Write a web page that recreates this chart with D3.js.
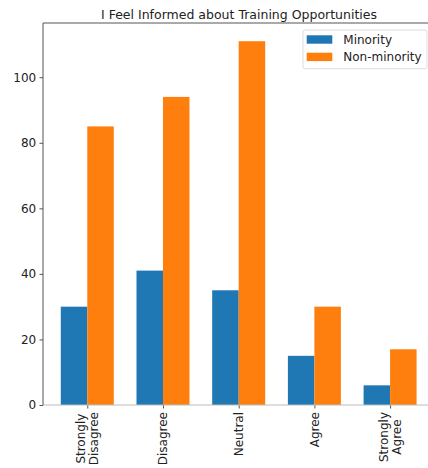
<!DOCTYPE html>
<html>
<head>
<meta charset="utf-8">
<script src="https://cdn.jsdelivr.net/npm/d3@7"></script>
<style>
html,body{margin:0;padding:0;background:#fff;}
svg{display:block;font-family:"DejaVu Sans",sans-serif;}
</style>
</head>
<body>
<svg id="c" width="428" height="468"></svg>
<script>
const categories = ["Strongly\nDisagree", "Disagree", "Neutral", "Agree", "Strongly\nAgree"];
const seriesNames = ["Minority", "Non-minority"];
const minority = [30, 41, 35, 15, 6];
const nonMinority = [85, 94, 111, 30, 17];
const yTicks = [0, 20, 40, 60, 80, 100];
const colors = ["#1f77b4", "#ff7f0e"];
const title = "I Feel Informed about Training Opportunities";

(function () {
const svg = d3.select("#c");
const mLeft = 43, mTop = 23, mBottom = 405;
const xUnit = 75.7;
const idx = categories.map((d, i) => i);
const x = d3.scaleLinear().domain([-0.585, 4.585]).range([mLeft, mLeft + 5.17 * xUnit]);
const yMax = d3.max(nonMinority.concat(minority)) * 1.05;
const y = d3.scaleLinear().domain([0, yMax]).range([mBottom, mTop]);
const bw = 0.35;

const series = [minority, nonMinority];
series.forEach((vals, s) => {
  svg.append("g").selectAll("rect").data(vals).join("rect")
    .attr("x", (d, i) => x(i + (s === 0 ? -bw : 0)))
    .attr("width", x(bw) - x(0))
    .attr("y", d => y(d))
    .attr("height", d => y(0) - y(d))
    .attr("fill", colors[s]);
});

// y axis
const yAxis = d3.axisLeft(y).tickValues(yTicks).tickSize(3.5).tickPadding(3.3);
const gy = svg.append("g").attr("transform", `translate(${mLeft},0)`).call(yAxis);
gy.select(".domain").remove();
gy.selectAll(".tick line").attr("stroke", "#555");
gy.selectAll(".tick text").attr("font-size", 12).attr("fill", "#222").attr("font-family", "DejaVu Sans");

// x axis ticks
const xAxis = d3.axisBottom(x).tickValues(idx).tickSize(3.5).tickFormat("");
const gx = svg.append("g").attr("transform", `translate(0,${mBottom})`).call(xAxis);
gx.select(".domain").remove();
gx.selectAll(".tick line").attr("stroke", "#555");

// spines
svg.append("line").attr("x1", mLeft).attr("x2", 428).attr("y1", mBottom).attr("y2", mBottom).attr("stroke", "#bbb").attr("stroke-width", 1.2);
svg.append("line").attr("x1", mLeft).attr("x2", 428).attr("y1", mTop).attr("y2", mTop).attr("stroke", "#555").attr("stroke-width", 1);
svg.append("line").attr("x1", mLeft).attr("x2", mLeft).attr("y1", mTop).attr("y2", mBottom).attr("stroke", "#555").attr("stroke-width", 1);

// x labels rotated
const lh = 13;
idx.forEach(i => {
  const lines = categories[i].split("\n");
  const g = svg.append("g");
  const texts = lines.map((ln, j) => g.append("text").text(ln)
      .attr("font-size", 12).attr("fill", "#222").attr("text-anchor", "middle"));
  const maxLen = d3.max(texts, t => t.node().getComputedTextLength());
  const cy = 412 + maxLen / 2;
  const n = lines.length;
  texts.forEach((t, j) => {
    const off = (j - (n - 1) / 2) * lh;
    const cx = x(i) + off;
    t.attr("transform", `translate(${cx + 4.5},${cy}) rotate(-90)`);
  });
});

// title
svg.append("text").attr("x", 239).attr("y", 19).attr("text-anchor", "middle")
  .attr("font-size", 12.5).attr("fill", "#222").text(title);

// legend
const lg = svg.append("g").attr("transform", "translate(303,30)");
lg.append("rect").attr("width", 124).attr("height", 38.7).attr("rx", 2)
  .attr("fill", "#fff").attr("fill-opacity", 0.8).attr("stroke", "#ddd");
seriesNames.forEach((n, k) => {
  lg.append("rect").attr("x", 3.7).attr("y", 5.3 + k * 17.4).attr("width", 25.6).attr("height", 8.4).attr("fill", colors[k]);
  lg.append("text").attr("x", 40.3).attr("y", 13.9 + k * 17.4).attr("font-size", 12).attr("fill", "#222").text(n);
});
})();
</script>
</body>
</html>
